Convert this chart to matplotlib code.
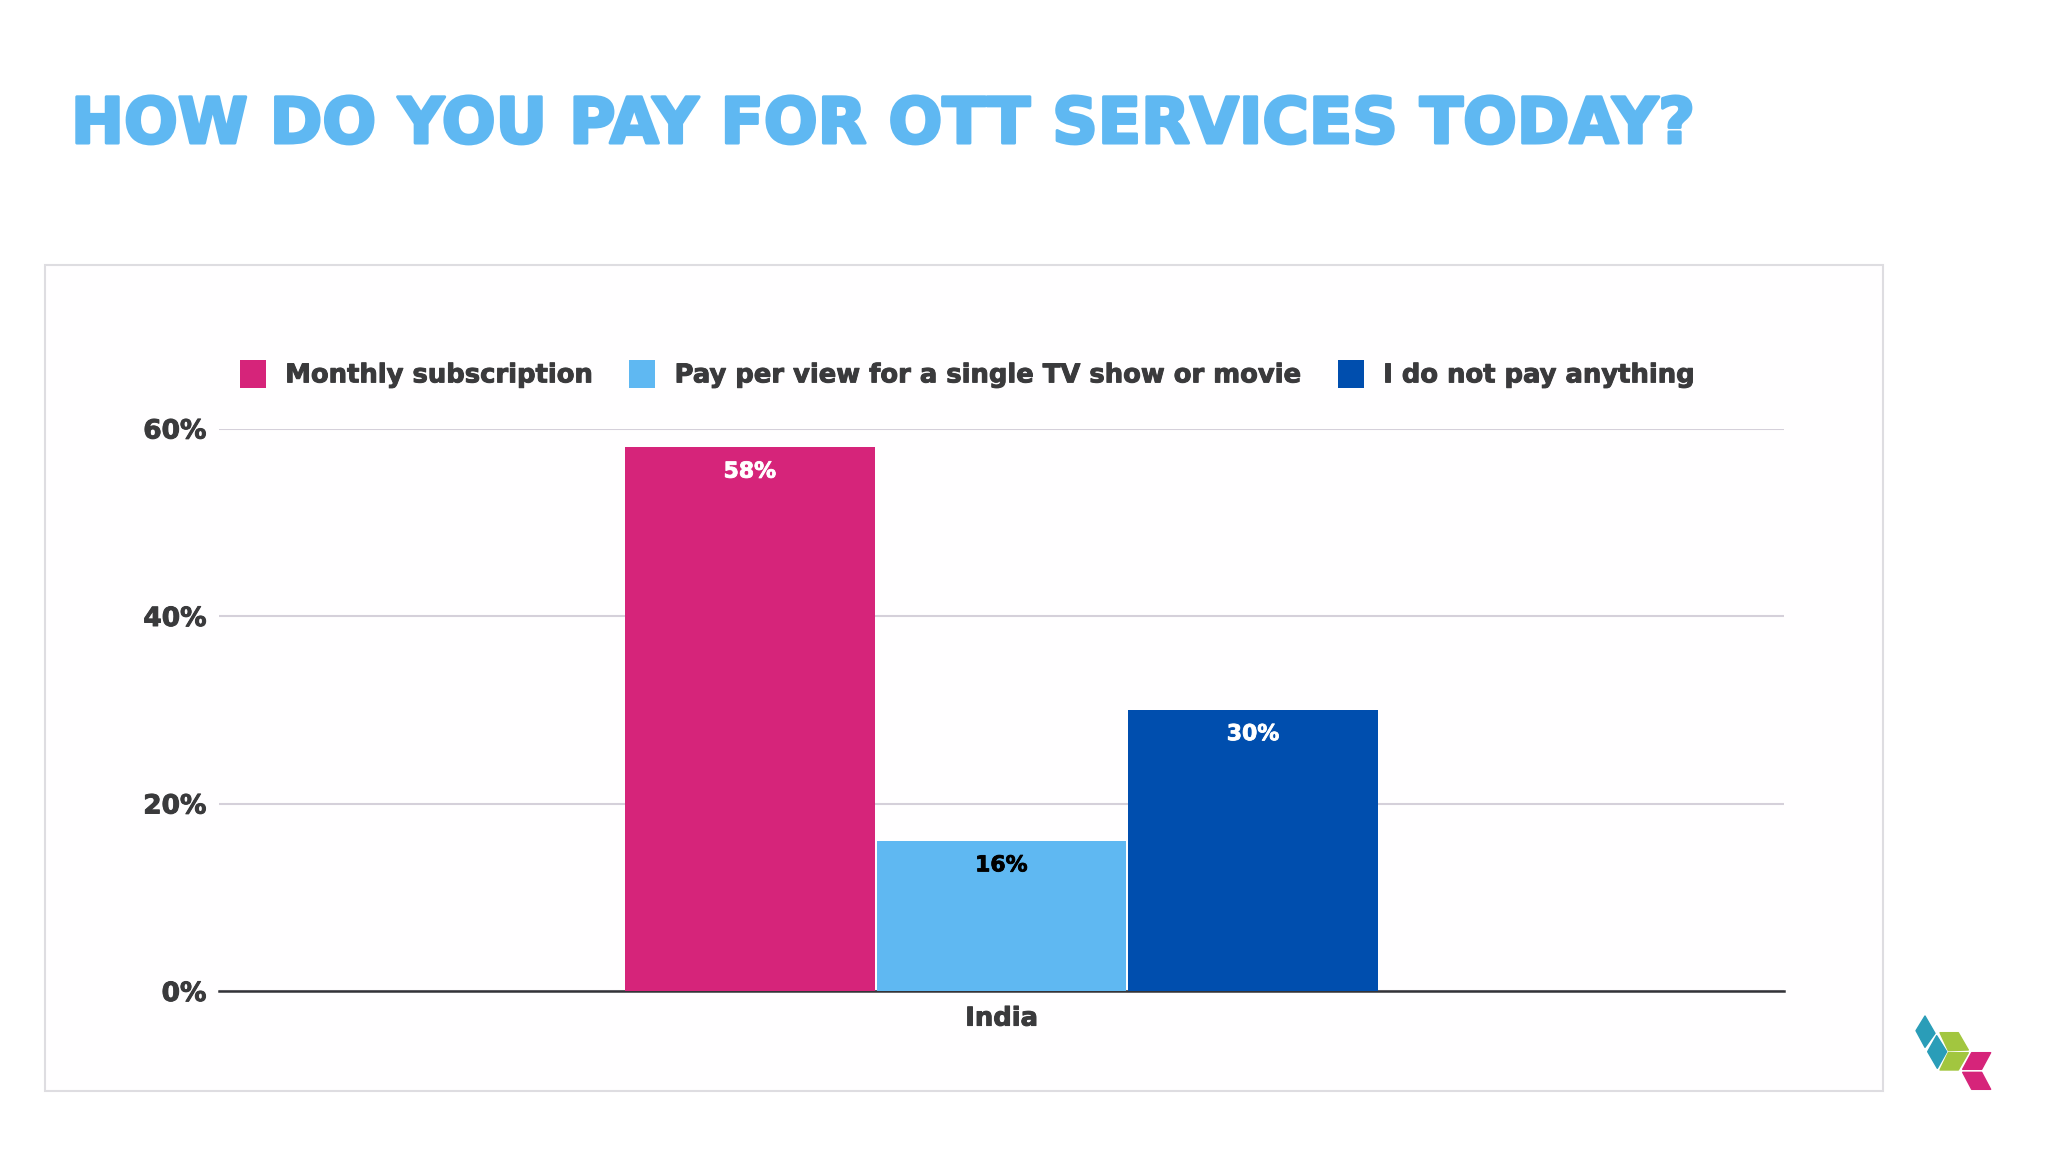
import matplotlib
matplotlib.use("Agg")
import matplotlib.pyplot as plt
import matplotlib.patheffects as pe
from matplotlib.patches import Polygon, Rectangle

# DATA
TITLE = "HOW DO YOU PAY FOR OTT SERVICES TODAY?"
SERIES = ["Monthly subscription", "Pay per view for a single TV show or movie", "I do not pay anything"]
VALUES = [58, 16, 30]
COLORS = ["#D6247A", "#5FB8F2", "#004EAE"]
LABEL_COLORS = ["white", "black", "white"]
YTICKS = [0, 20, 40, 60]
CATEGORY = "India"

W, H = 2048, 1152
TEXT = "#3a3a3c"
plt.rcParams['font.family'] = ['DejaVu Sans']

fig = plt.figure(figsize=(W/100, H/100), dpi=100, facecolor="white")

# page layer in pixels (frame + logo)
page = fig.add_axes([0, 0, 1, 1], zorder=0)
page.set_xlim(0, W)
page.set_ylim(H, 0)
page.axis("off")
page.add_patch(Rectangle((44.5, 264.5), 1838, 826, fc="#fffeff", ec="#dedde1", lw=1.5))

def zoomed(pts):
    return [(1880+x/3, 990+y/3) for x, y in pts]

teal = "#2A9DB8"
green = "#A2C63F"
pink = "#D6247A"
logo = [
    ([(135,78),(165,130),(135,172),(108,122)], teal),
    ([(170,137),(200,185),(172,235),(143,185)], teal),
    ([(180,128),(235,128),(265,180),(205,182)], green),
    ([(205,188),(265,188),(235,240),(180,240)], green),
    ([(275,188),(332,188),(305,238),(248,238)], pink),
    ([(248,247),(305,247),(332,298),(275,298)], pink),
]
for pts, col in logo:
    page.add_patch(Polygon(zoomed(pts), closed=True, fc=col, ec=col, lw=1, joinstyle="round"))

# title
t = fig.text(71/W, 1-126/H, TITLE, fontsize=45.6, fontweight="bold", color="#5FB8F2",
             ha="left", va="center")
t.set_path_effects([pe.withStroke(linewidth=2.2, foreground="#5FB8F2")])

# chart
ax = fig.add_axes([219/W, 1-991/H, (1784-219)/W, (991-428.5)/H], zorder=1)
ax.patch.set_alpha(0)
ax.set_xlim(-2, 2)
ax.set_ylim(0, 60)

heavy = [pe.withStroke(linewidth=0.7, foreground=TEXT)]

handles = []
for i, (name, val, col, lc) in enumerate(zip(SERIES, VALUES, COLORS, LABEL_COLORS)):
    x = (i-1)*0.643
    b = ax.bar(x, val, width=0.638, color=col, label=name, zorder=3)
    handles.append(b[0])
    lab = ax.text(x, val-2.6, "%d%%" % val, ha="center", va="center", color=lc,
                  fontsize=15.8, fontweight="bold", zorder=4)
    lab.set_path_effects([pe.withStroke(linewidth=0.6, foreground=lc)])

ax.set_yticks(YTICKS)
ax.set_yticklabels(["%d%%" % v for v in YTICKS], fontsize=19, fontweight="bold", color=TEXT)
ax.set_xticks([0])
ax.set_xticklabels([CATEGORY], fontsize=18.6, fontweight="bold", color=TEXT)
ax.tick_params(axis="both", length=0)
ax.tick_params(axis="y", pad=9)
ax.tick_params(axis="x", pad=10.5)
for lab in ax.get_xticklabels() + ax.get_yticklabels():
    lab.set_path_effects(heavy)
ax.grid(axis="y", color="#d5d0da", lw=1.5, zorder=0)
ax.set_axisbelow(True)
for s in ["top", "right", "left"]:
    ax.spines[s].set_visible(False)
ax.spines["bottom"].set_color("#333338")
ax.spines["bottom"].set_linewidth(1.8)

leg = fig.legend(handles, SERIES, ncol=3, loc="center left",
                 bbox_to_anchor=(240/W, 1-374/H), frameon=False, fontsize=18.6,
                 handlelength=1.0, handleheight=1.3, handletextpad=0.75,
                 columnspacing=1.4, borderpad=0, borderaxespad=0, labelcolor=TEXT)
for txt in leg.get_texts():
    txt.set_fontweight("bold")
    txt.set_path_effects(heavy)

fig.savefig("out.png", dpi=100, facecolor="white")
